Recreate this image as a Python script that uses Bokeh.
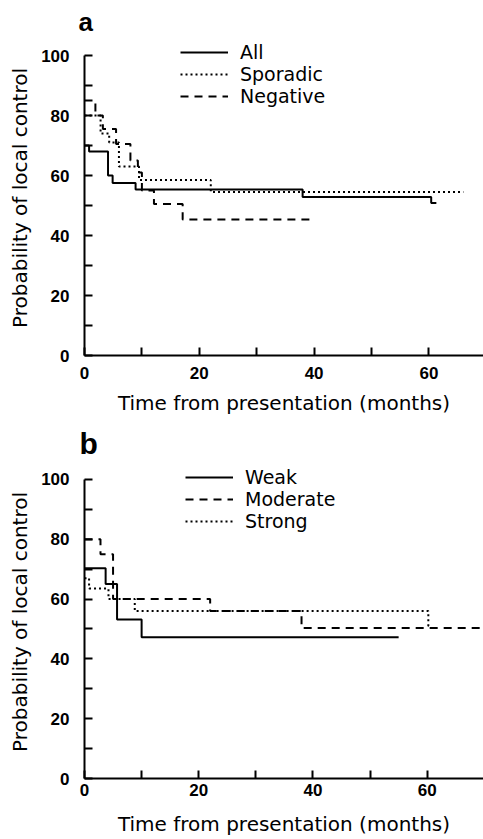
from bokeh.plotting import figure
from bokeh.models import FixedTicker, Range1d
from bokeh.layouts import column
from bokeh.embed import file_html
from bokeh.resources import INLINE

# ---- axis ticks ----
month_ticks = [0, 20, 40, 60]
month_minor = [10, 30, 50]
prob_ticks = [0, 20, 40, 60, 80, 100]
prob_minor = [10, 30, 50, 70, 90]

x_title = "Time from presentation (months)"
y_title = "Probability of local control"

# ---- panel a ----
a_names = ["All", "Sporadic", "Negative"]
all_t = [0, 0.8, 4.1, 4.9, 8.9, 38, 60.4, 61.3]
all_s = [70, 68, 60, 57.5, 55.3, 52.8, 50.8, 50.8]
spor_t = [0, 2.8, 4.3, 6.0, 9.5, 22, 66]
spor_s = [80, 74, 71, 63, 58.5, 54.5, 54.5]
neg_t = [0, 1.9, 3.2, 5.5, 8, 9.3, 10, 12.1, 17.1, 40]
neg_s = [85, 80, 75.5, 70.5, 65, 61, 55, 50.5, 45.3, 45.3]

# ---- panel b ----
b_names = ["Weak", "Moderate", "Strong"]
weak_t = [0, 3.7, 5.7, 10, 55]
weak_s = [70.3, 65, 53.2, 47.2, 47.2]
mod_t = [0, 2.8, 5.0, 22, 38, 70]
mod_s = [80, 75, 60, 56, 50.3, 50.3]
str_t = [0, 0.8, 4.2, 8.8, 60.2, 60.5]
str_s = [67, 63.5, 60, 56, 51, 51]

SOLID = "solid"
DOT = "2 3"
DASH = "8 6"
W = 483


def style_axes(p, x_standoff, x_label_standoff):
    for ax in (p.xaxis[0], p.yaxis[0]):
        ax.major_tick_in = 8
        ax.major_tick_out = 0
        ax.minor_tick_in = 8
        ax.minor_tick_out = 0
        ax.axis_line_width = 2
        ax.major_tick_line_width = 2
        ax.minor_tick_line_width = 2
        ax.axis_line_color = "black"
        ax.major_tick_line_color = "black"
        ax.minor_tick_line_color = "black"
        ax.major_label_text_font = "Liberation Sans"
        ax.major_label_text_font_style = "bold"
        ax.major_label_text_font_size = "17px"
        ax.major_label_text_color = "black"
        ax.axis_label_text_font = "DejaVu Sans"
        ax.axis_label_text_font_style = "normal"
        ax.axis_label_text_font_size = "20px"
        ax.axis_label_text_color = "black"
    xa = p.xaxis[0]
    ya = p.yaxis[0]
    xa.ticker = FixedTicker(ticks=month_ticks, minor_ticks=month_minor)
    ya.ticker = FixedTicker(ticks=prob_ticks, minor_ticks=prob_minor)
    ya.bounds = (0, 100)
    xa.axis_label = x_title
    ya.axis_label = y_title
    xa.major_label_standoff = x_standoff
    xa.axis_label_standoff = x_label_standoff
    ya.major_label_standoff = 15
    ya.axis_label_standoff = 6


def make_panel(letter, series, height, left, top, bottom, legend_loc, x_standoff,
               x_label_standoff, title_size, title_standoff, title_offset):
    frame_w = W - left
    frame_h = height - top - bottom
    p = figure(width=W, height=height, output_backend="svg", toolbar_location=None,
               x_range=Range1d(0, frame_w / 5.74), y_range=Range1d(0, frame_h / 3.0),
               min_border_left=left, min_border_right=0,
               min_border_top=top, min_border_bottom=bottom)
    p.outline_line_color = None
    p.xgrid.visible = False
    p.ygrid.visible = False
    p.background_fill_color = "white"
    p.border_fill_color = "white"
    for name, t, s, dash in series:
        p.step(x=t, y=s, mode="after", line_color="black", line_width=2,
               line_dash=dash, legend_label=name)
    style_axes(p, x_standoff, x_label_standoff)
    lg = p.legend[0]
    lg.location = legend_loc
    lg.border_line_color = None
    lg.background_fill_alpha = 0
    lg.padding = 0
    lg.margin = 0
    lg.spacing = 0
    lg.glyph_width = 48
    lg.glyph_height = 20
    lg.label_height = 20
    lg.label_standoff = 12
    lg.label_text_font = "DejaVu Sans"
    lg.label_text_font_size = "19px"
    lg.label_text_color = "black"
    p.title.text = letter
    p.title.align = "left"
    p.title.offset = title_offset
    p.title.standoff = title_standoff
    p.title.text_font = "Liberation Sans"
    p.title.text_font_style = "bold"
    p.title.text_font_size = title_size
    p.title.text_color = "black"
    return p


pa = make_panel("a", [(a_names[0], all_t, all_s, SOLID),
                      (a_names[1], spor_t, spor_s, DOT),
                      (a_names[2], neg_t, neg_s, DASH)],
                height=418, left=84, top=40, bottom=63, legend_loc=(96, 248),
                x_standoff=11, x_label_standoff=9,
                title_size="26px", title_standoff=7, title_offset=-6)

pb = make_panel("b", [(b_names[0], weak_t, weak_s, SOLID),
                      (b_names[1], mod_t, mod_s, DASH),
                      (b_names[2], str_t, str_s, DOT)],
                height=421, left=82, top=46, bottom=61, legend_loc=(101, 246),
                x_standoff=5, x_label_standoff=13,
                title_size="30px", title_standoff=12, title_offset=-5)

layout = column(pa, pb, spacing=0)
open("out.html", "w").write(file_html(layout, INLINE))
